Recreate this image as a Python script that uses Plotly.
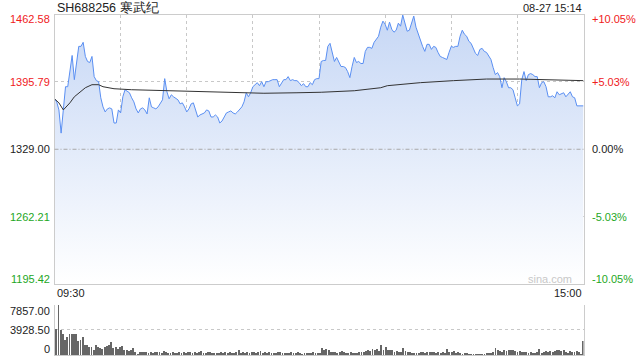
import plotly.graph_objects as go

# ---------------- data ----------------
stock_title = "SH688256 寒武纪"
timestamp = "08-27 15:14"
time_labels = ["09:30", "15:00"]
prev_close = 1329.00

price = [
    1379, 1376, 1368, 1345, 1368, 1391, 1391, 1408, 1422, 1398,
    1413, 1431, 1431, 1435, 1421, 1416, 1415, 1421, 1401, 1397,
    1396, 1380, 1371, 1366, 1369, 1370, 1369, 1355, 1355, 1368,
    1365, 1381, 1388, 1386, 1385, 1380, 1376, 1369, 1365, 1369,
    1370, 1368, 1364, 1380, 1371, 1370, 1369, 1371, 1375, 1378,
    1399, 1386, 1379, 1383, 1381, 1379, 1378, 1374, 1375, 1371,
    1366, 1369, 1374, 1375, 1368, 1361, 1363, 1364, 1365, 1368,
    1367, 1361, 1361, 1363, 1361, 1355, 1357, 1361, 1365, 1366,
    1367, 1365, 1364, 1366, 1369, 1371, 1376, 1385, 1381, 1385,
    1391, 1393, 1395, 1392, 1396, 1391, 1396, 1396, 1397, 1398,
    1398, 1398, 1391, 1395, 1398, 1398, 1401, 1397, 1398, 1397,
    1397, 1395, 1392, 1394, 1391, 1391, 1395, 1393, 1398, 1399,
    1399,
    1416, 1417, 1417, 1431, 1434, 1425, 1416, 1420, 1415,
    1411, 1411, 1410, 1406, 1400, 1411, 1420, 1415, 1416, 1414,
    1414, 1426, 1430, 1430, 1429, 1435, 1438, 1441, 1450, 1456,
    1453, 1447, 1455, 1448, 1445, 1447, 1454, 1451, 1462, 1453,
    1446, 1447, 1454, 1461, 1450, 1443, 1438, 1431, 1426, 1433,
    1433, 1428, 1431, 1430, 1425, 1421, 1420, 1419, 1418, 1425,
    1431, 1430, 1431, 1431, 1441, 1447, 1443, 1441, 1436, 1434,
    1429, 1424, 1422, 1428, 1429, 1426, 1425, 1422, 1418, 1410,
    1403, 1405, 1401, 1390, 1400, 1396, 1390, 1390, 1388, 1380,
    1372, 1374, 1398, 1406, 1397, 1403, 1404, 1403, 1401, 1401,
    1390, 1395, 1396, 1391, 1381, 1381, 1382, 1380, 1386, 1383,
    1384, 1385, 1381, 1383, 1386, 1381, 1380, 1372, 1372, 1372,
    1372,
]

avg_minutes = [0, 2, 4, 7, 9, 12, 14, 17, 20, 22, 27, 35, 50, 65, 80, 95, 110, 120,
               121, 136, 148, 151, 166, 181, 196, 211, 226, 240]
avg_values = [1379, 1375, 1368, 1375, 1381, 1386, 1390, 1393, 1393, 1391, 1389, 1388,
              1387, 1386, 1385, 1384.5, 1385, 1385.3, 1385.5, 1387, 1390, 1392, 1395,
              1397, 1398.6, 1398.6, 1398, 1397]

volume = [
    4200, 7857, 3900, 3300, 2450, 2900, 3300, 3300, 3300, 3300,
    2300, 2400, 2950, 1700, 1700, 1400, 1400, 800, 1700, 1400,
    1200, 1000, 1400, 1550, 1700, 2100, 1200, 1400, 1000, 1400,
    1550, 800, 850, 750, 800, 1200, 500, 200, 550, 600,
    600, 550, 450, 600, 450, 600, 600, 550, 450, 700,
    500, 350, 450, 500, 400, 450, 500, 450, 550, 400,
    500, 600, 450, 550, 400, 500, 750, 450, 400, 500,
    600, 450, 400, 350, 450, 500, 400, 550, 450, 600,
    450, 400, 500, 800, 450, 500, 400, 550, 450, 600,
    500, 400, 600, 750, 450, 500, 400, 500, 350, 400,
    450, 500, 550, 400, 450, 350, 400, 500, 450, 400,
    500, 350, 300, 400, 450, 350, 400, 500, 400, 350,
    400,
    1200, 800, 1000, 800, 600, 500, 500, 450, 600, 700,
    500, 450, 400, 500, 450, 400, 450, 500, 600, 550,
    700, 900, 700, 1000, 800, 1000, 700, 1700, 800, 1300,
    900, 900, 800, 600, 700, 600, 500, 1200, 700, 500,
    500, 400, 400, 450, 400, 500, 500, 450, 600, 550,
    600, 500, 450, 550, 400, 500, 450, 1000, 600, 550,
    650, 400, 500, 450, 300, 450, 350, 250, 300, 250,
    200, 300, 250, 300, 250, 400, 350, 400, 500, 1200,
    900, 700, 500, 800, 700, 900, 900, 800, 700, 600,
    650, 600, 500, 550, 450, 500, 400, 450, 500, 1000,
    450, 600, 700, 600, 650, 500, 700, 900, 800, 700,
    800, 550, 400, 700, 600, 500, 650, 600, 250, 2200,
]

price_levels = [1462.58, 1395.79, 1329.00, 1262.21, 1195.42]
price_labels = ["1462.58", "1395.79", "1329.00", "1262.21", "1195.42"]
pct_labels = ["+10.05%", "+5.03%", "0.00%", "-5.03%", "-10.05%"]
vol_levels = [7857.00, 3928.50, 0]
vol_labels = ["7857.00", "3928.50", "0"]

# ---------------- styling ----------------
RED = "#f0201c"
GREEN = "#1ea71e"
DARK = "#222222"
LINE_BLUE = "#5a8ff2"
BORDER = "#cccccc"
GRID = "#c8c8c8"
FONT = "Arial, Liberation Sans, sans-serif"
W, H = 640, 360
X0, X1 = 54.5 / W, 583.5 / W
label_colors = [RED, RED, DARK, GREEN, GREEN]
label_shift = [-5, 0, 0, 0, 5]

minutes = list(range(len(price)))
vol_minutes = list(range(len(volume)))

fig = go.Figure()
fig.add_trace(go.Scatter(
    x=minutes, y=price, mode="lines",
    line=dict(color=LINE_BLUE, width=1),
    fill="tozeroy",
    fillgradient=dict(type="vertical",
                      colorscale=[[0, "rgba(255,255,255,1)"], [1, "#c6d7f5"]],
                      start=price_levels[-1], stop=price_levels[0]),
    xaxis="x", yaxis="y", hoverinfo="skip",
))
fig.add_trace(go.Scatter(
    x=avg_minutes, y=avg_values, mode="lines",
    line=dict(color="#333333", width=1),
    xaxis="x", yaxis="y", hoverinfo="skip",
))
fig.add_trace(go.Bar(
    x=vol_minutes, y=volume, width=0.4,
    marker=dict(color="#666666", line=dict(width=0)),
    xaxis="x2", yaxis="y2", hoverinfo="skip",
))

fig.update_layout(
    width=W, height=H,
    margin=dict(l=0, r=0, t=0, b=0),
    paper_bgcolor="white", plot_bgcolor="rgba(0,0,0,0)",
    showlegend=False,
    font=dict(family=FONT, size=11, color=DARK),
    xaxis=dict(domain=[X0, X1], range=[0, 240],
               tickvals=list(range(0, 241, 30)), showticklabels=False, ticks="",
               showgrid=True, gridcolor=GRID, griddash="dot", gridwidth=1,
               showline=True, linecolor=BORDER, linewidth=1, mirror=True,
               zeroline=False, fixedrange=True),
    yaxis=dict(domain=[1 - 284 / H, 1 - 14.5 / H],
               range=[price_levels[-1], price_levels[0]],
               tickvals=[price_levels[1], price_levels[3]], showticklabels=False, ticks="",
               showgrid=True, gridcolor=GRID, griddash="dot", gridwidth=1,
               showline=True, linecolor=BORDER, linewidth=1, mirror=True,
               zeroline=False, fixedrange=True),
    xaxis2=dict(domain=[X0, X1], range=[-0.6, 240.3], anchor="y2",
                showticklabels=False, ticks="", showgrid=False,
                showline=True, linecolor=BORDER, linewidth=1, mirror=False,
                zeroline=False, fixedrange=True),
    yaxis2=dict(domain=[1 - 355 / H, 1 - 304.5 / H], range=[0, vol_levels[0]],
                anchor="x2",
                tickvals=vol_levels[:2], showticklabels=False, ticks="",
                showgrid=True, gridcolor=GRID, griddash="dot", gridwidth=1,
                showline=True, linecolor=BORDER, linewidth=1, mirror=True,
                zeroline=False, fixedrange=True),
    bargap=0,
)

# previous close dashed line
fig.add_shape(type="line", xref="x domain", yref="y", x0=0, x1=1,
              y0=prev_close, y1=prev_close,
              line=dict(color="#a8a8a8", width=1, dash="4px,2px,1px,2px"))

ann = []
for v, lab, pl, c, s in zip(price_levels, price_labels, pct_labels, label_colors, label_shift):
    ann.append(dict(xref="paper", yref="y", x=51.5 / W, y=v, text=lab,
                    xanchor="right", yanchor="middle", yshift=s, showarrow=False,
                    font=dict(color=c, size=11)))
    ann.append(dict(xref="paper", yref="y", x=589.5 / W, y=v, text=pl,
                    xanchor="left", yanchor="middle", yshift=s, showarrow=False,
                    font=dict(color=c, size=11)))
vol_shift = [-6, 0, 6]
for v, lab, s in zip(vol_levels, vol_labels, vol_shift):
    ann.append(dict(xref="paper", yref="y2", x=51.5 / W, y=v, text=lab,
                    xanchor="right", yanchor="middle", yshift=s, showarrow=False,
                    font=dict(color=DARK, size=11)))
# time labels
ann.append(dict(xref="x", yref="paper", x=0, y=1 - 293 / H, text=time_labels[0],
                xanchor="left", yanchor="middle", showarrow=False,
                font=dict(color=DARK, size=11)))
ann.append(dict(xref="x", yref="paper", x=240, y=1 - 293 / H, text=time_labels[1],
                xanchor="right", yanchor="middle", showarrow=False,
                font=dict(color=DARK, size=11)))
# title & timestamp
ann.append(dict(xref="paper", yref="paper", x=X0, y=1 - 7.5 / H, text=stock_title,
                xanchor="left", yanchor="middle", showarrow=False,
                font=dict(color=DARK, size=12.5)))
ann.append(dict(xref="paper", yref="paper", x=X1, y=1 - 7.5 / H, text=timestamp,
                xanchor="right", yanchor="middle", showarrow=False,
                font=dict(color=DARK, size=11)))
# watermark
ann.append(dict(xref="paper", yref="paper", x=574 / W, y=1 - 279 / H, text="sina.com",
                xanchor="right", yanchor="middle", showarrow=False,
                font=dict(color="#c8c8c8", size=11)))
fig.update_layout(annotations=ann)

fig.write_html("out.html", config={"displayModeBar": False})
